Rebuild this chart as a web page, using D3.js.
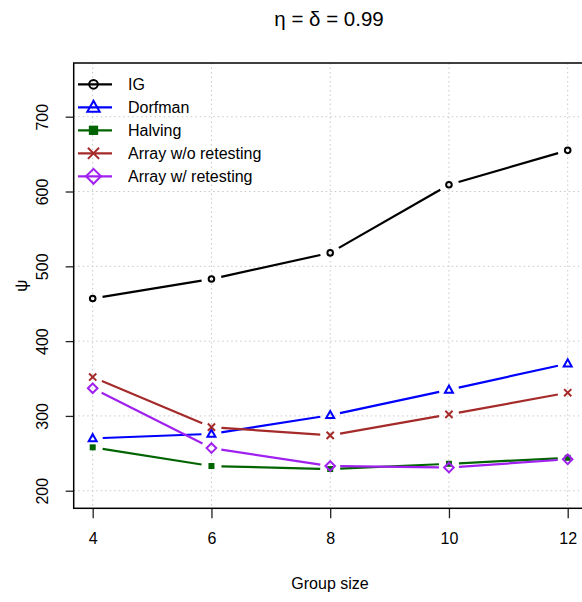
<!DOCTYPE html>
<html>
<head>
<meta charset="utf-8">
<script src="https://cdnjs.cloudflare.com/ajax/libs/d3/7.8.5/d3.min.js"></script>
<style>
  body { margin: 0; background: #fff; }
  svg { display: block; font-family: "Liberation Sans", Arial, sans-serif; }
</style>
</head>
<body>
<div id="chart"></div>
<script>

// group sizes on the x axis
var groupSizes = [4, 6, 8, 10, 12];

// psi values per method
var igValues       = [457, 483, 518, 609, 655];
var dorfmanValues  = [270, 276, 301, 335, 370];
var halvingValues  = [258, 233, 229, 236, 244];
var arrayNoRetest  = [352, 285, 274, 302, 331];
var arrayRetest    = [337, 257, 233, 231, 242];

var seriesNames = ["IG", "Dorfman", "Halving", "Array w/o retesting", "Array w/ retesting"];
var xTicks = [4, 6, 8, 10, 12];
var yTicks = [200, 300, 400, 500, 600, 700];

var width = 582,
    height = 602,
    plotLeft = 73.7,
    plotRight = 586.7,
    plotTop = 63,
    plotBottom = 508.3,
    gap = 10;

var series = [
    { name: seriesNames[0], values: igValues,      color: "#000000", shape: "circle" },
    { name: seriesNames[1], values: dorfmanValues, color: "#0000FF", shape: "triangle" },
    { name: seriesNames[2], values: halvingValues, color: "#006400", shape: "square" },
    { name: seriesNames[3], values: arrayNoRetest, color: "#A52A2A", shape: "cross" },
    { name: seriesNames[4], values: arrayRetest,   color: "#A020F0", shape: "diamond" }
];

var x = d3.scaleLinear().domain([3.68, 12.32]).range([plotLeft, plotRight]);
var y = d3.scaleLinear().domain([176.5, 771.8]).range([plotBottom, plotTop]);

var svg = d3.select("#chart").append("svg")
    .attr("width", width)
    .attr("height", height);

// grid
var grid = svg.append("g")
    .attr("stroke", "#c8c8c8")
    .attr("stroke-width", 1)
    .attr("stroke-dasharray", "1.5,3");

grid.selectAll("line.vx")
    .data(xTicks)
    .enter().append("line")
    .attr("x1", function(d) { return x(d); })
    .attr("x2", function(d) { return x(d); })
    .attr("y1", plotTop)
    .attr("y2", plotBottom);

grid.selectAll("line.hy")
    .data(yTicks)
    .enter().append("line")
    .attr("x1", plotLeft)
    .attr("x2", plotRight)
    .attr("y1", function(d) { return y(d); })
    .attr("y2", function(d) { return y(d); });

// axes
var xAxis = d3.axisBottom(x).tickValues(xTicks).tickSize(10).tickPadding(14);
var yAxis = d3.axisLeft(y).tickValues(yTicks).tickSize(8);

var gx = svg.append("g")
    .attr("transform", "translate(0," + plotBottom + ")")
    .call(xAxis);
gx.select(".domain").remove();
gx.selectAll("line").attr("stroke", "#222").attr("stroke-width", 1.3);
gx.selectAll("text")
    .attr("font-size", 16)
    .attr("fill", "#000")
    .attr("font-family", "Liberation Sans, Arial, sans-serif");

var gy = svg.append("g")
    .attr("transform", "translate(" + plotLeft + ",0)")
    .call(yAxis);
gy.select(".domain").remove();
gy.selectAll("line").attr("stroke", "#222").attr("stroke-width", 1.3);
gy.selectAll("text")
    .attr("font-size", 16)
    .attr("fill", "#000")
    .attr("font-family", "Liberation Sans, Arial, sans-serif")
    .attr("text-anchor", "middle")
    .attr("x", 0)
    .attr("dy", 0)
    .attr("transform", "translate(-25.5,0) rotate(-90)");

// box
svg.append("rect")
    .attr("x", plotLeft)
    .attr("y", plotTop)
    .attr("width", plotRight - plotLeft)
    .attr("height", plotBottom - plotTop)
    .attr("fill", "none")
    .attr("stroke", "#000")
    .attr("stroke-width", 1.5);

// lines with gaps around the points (type = "b")
function gappedSegments(values) {
    var segs = [];
    for (var i = 0; i < values.length - 1; i++) {
        var x1 = x(groupSizes[i]), y1 = y(values[i]),
            x2 = x(groupSizes[i + 1]), y2 = y(values[i + 1]);
        var dx = x2 - x1, dy = y2 - y1, len = Math.sqrt(dx * dx + dy * dy);
        if (len <= 2 * gap) continue;
        var ux = dx / len, uy = dy / len;
        segs.push([x1 + ux * gap, y1 + uy * gap, x2 - ux * gap, y2 - uy * gap]);
    }
    return segs;
}

function drawMarker(sel, shape, color, s) {
    if (shape === "circle") {
        sel.append("circle").attr("r", 2.8 * s)
            .attr("fill", "none").attr("stroke", color).attr("stroke-width", 2);
    } else if (shape === "triangle") {
        var h = 4.2 * s;
        sel.append("path")
            .attr("d", "M0," + (-h) + "L" + (h * 0.95) + "," + (h * 0.7) + "L" + (-h * 0.95) + "," + (h * 0.7) + "Z")
            .attr("fill", "none").attr("stroke", color).attr("stroke-width", 2);
    } else if (shape === "square") {
        var a = 3 * s;
        sel.append("rect").attr("x", -a).attr("y", -a).attr("width", 2 * a).attr("height", 2 * a)
            .attr("fill", color);
    } else if (shape === "cross") {
        var c = 3.6 * s;
        sel.append("path")
            .attr("d", "M" + (-c) + "," + (-c) + "L" + c + "," + c + "M" + (-c) + "," + c + "L" + c + "," + (-c))
            .attr("stroke", color).attr("stroke-width", 2);
    } else if (shape === "diamond") {
        var r = 4.8 * s;
        sel.append("path")
            .attr("d", "M0," + (-r) + "L" + r + ",0L0," + r + "L" + (-r) + ",0Z")
            .attr("fill", "none").attr("stroke", color).attr("stroke-width", 2);
    }
}

series.forEach(function(s) {
    var g = svg.append("g");
    g.selectAll("line")
        .data(gappedSegments(s.values))
        .enter().append("line")
        .attr("x1", function(d) { return d[0]; })
        .attr("y1", function(d) { return d[1]; })
        .attr("x2", function(d) { return d[2]; })
        .attr("y2", function(d) { return d[3]; })
        .attr("stroke", s.color)
        .attr("stroke-width", 2.2);

    g.selectAll("g.pt")
        .data(s.values)
        .enter().append("g")
        .attr("transform", function(d, i) { return "translate(" + x(groupSizes[i]) + "," + y(d) + ")"; })
        .each(function() { drawMarker(d3.select(this), s.shape, s.color, 1); });
});

// legend
var legend = svg.append("g");
series.forEach(function(s, i) {
    var ly = 84.3 + i * 23;
    var row = legend.append("g").attr("transform", "translate(0," + ly + ")");
    row.append("line")
        .attr("x1", 78).attr("x2", 112).attr("y1", 0).attr("y2", 0)
        .attr("stroke", s.color).attr("stroke-width", 2.2);
    var m = row.append("g").attr("transform", "translate(93.5,0)");
    drawMarker(m, s.shape, s.color, 1.55);
    row.append("text")
        .attr("x", 128)
        .attr("y", 0)
        .attr("dy", "0.36em")
        .attr("font-size", 16)
        .text(s.name);
});

// titles
svg.append("text")
    .attr("x", 329)
    .attr("y", 26)
    .attr("text-anchor", "middle")
    .attr("font-size", 20.5)
    .text("\u03B7 = \u03B4 = 0.99");

svg.append("text")
    .attr("x", 330)
    .attr("y", 589)
    .attr("text-anchor", "middle")
    .attr("font-size", 16)
    .text("Group size");

svg.append("text")
    .attr("transform", "translate(27," + ((plotTop + plotBottom) / 2) + ") rotate(-90)")
    .attr("text-anchor", "middle")
    .attr("font-size", 17)
    .text("\u03C8");

</script>
</body>
</html>
